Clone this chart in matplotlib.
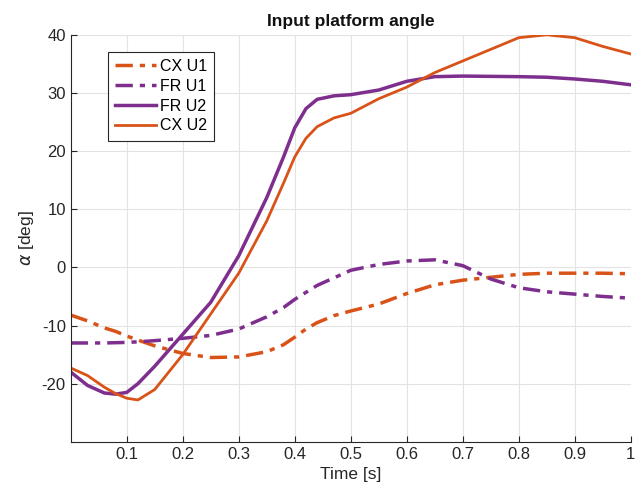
import matplotlib.pyplot as plt

# valores
t = [0.0, 0.03, 0.06, 0.08, 0.1, 0.12, 0.15, 0.2, 0.25, 0.3, 0.35, 0.38, 0.4, 0.42,
     0.44, 0.47, 0.5, 0.55, 0.6, 0.65, 0.7, 0.75, 0.8, 0.85, 0.9, 0.95, 1.0]

cx_u1 = [-8.2, -9.2, -10.4, -11.0, -11.8, -12.5, -13.5, -14.8, -15.5, -15.4, -14.5, -13.3,
         -12.0, -10.6, -9.5, -8.3, -7.5, -6.3, -4.5, -3.0, -2.2, -1.7, -1.2, -1.0, -1.0,
         -1.0, -1.1]
fr_u1 = [-13.0, -13.0, -13.0, -12.95, -12.9, -12.8, -12.6, -12.2, -11.7, -10.6, -8.5, -6.9,
         -5.5, -4.3, -3.1, -1.8, -0.5, 0.5, 1.1, 1.3, 0.3, -2.0, -3.5, -4.2, -4.6, -5.0, -5.3]
fr_u2 = [-18.0, -20.3, -21.6, -21.8, -21.5, -20.0, -17.0, -11.5, -6.0, 2.0, 12.0, 19.0,
         24.0, 27.3, 28.9, 29.5, 29.7, 30.5, 32.0, 32.8, 32.9, 32.85, 32.8, 32.7, 32.4,
         32.0, 31.4]
cx_u2 = [-17.3, -18.6, -20.6, -21.7, -22.5, -22.8, -21.0, -15.0, -8.0, -1.0, 8.0, 14.5,
         19.0, 22.2, 24.2, 25.7, 26.5, 29.0, 31.0, 33.5, 35.5, 37.5, 39.5, 40.0, 39.5,
         38.0, 36.7]

laranja = "#D95319"
roxo = "#7E2F8E"

plt.rcParams['font.family'] = ['Liberation Sans', 'DejaVu Sans']
plt.rcParams['axes.unicode_minus'] = False

fig = plt.figure(figsize=(6.43, 4.97), dpi=100)
ax = fig.add_axes([0.110, 0.111, 0.871, 0.819])

ax.plot(t, cx_u1, color=laranja, lw=2.5, ls=(0, (5, 2, 1.5, 2)), label="CX U1")
ax.plot(t, fr_u1, color=roxo, lw=2.5, ls=(0, (5, 2, 1.5, 2)), label="FR U1")
ax.plot(t, fr_u2, color=roxo, lw=2.5, label="FR U2")
ax.plot(t, cx_u2, color=laranja, lw=2.0, label="CX U2")

ax.set_xlim(0, 1)
ax.set_ylim(-30, 40)
ax.set_xticks([0.1, 0.2, 0.3, 0.4, 0.5, 0.6, 0.7, 0.8, 0.9, 1])
ax.set_xticklabels(["0.1", "0.2", "0.3", "0.4", "0.5", "0.6", "0.7", "0.8", "0.9", "1"])
ax.set_yticks([-20, -10, 0, 10, 20, 30, 40])
ax.grid(True, color="#e3e3e3", lw=0.8)
ax.tick_params(direction="in", labelsize=12, colors="#262626", length=4)
for s in ["top", "right"]:
    ax.spines[s].set_visible(False)
for s in ["left", "bottom"]:
    ax.spines[s].set_color("#262626")

ax.set_title("Input platform angle", fontsize=12.5, fontweight="bold", color="#111111")
ax.set_xlabel("Time [s]", fontsize=12.5, color="#262626")
ax.set_ylabel(r"$\alpha$ [deg]", fontsize=12.5, color="#262626")

leg = ax.legend(loc="upper left", bbox_to_anchor=(0.066, 0.958), borderaxespad=0,
                fontsize=11.5, fancybox=False, edgecolor="#262626", framealpha=1,
                handlelength=2.6, handletextpad=0.2, labelspacing=0.3,
                borderpad=0.45)
leg.get_frame().set_linewidth(0.8)

fig.savefig("out.png", dpi=100)
